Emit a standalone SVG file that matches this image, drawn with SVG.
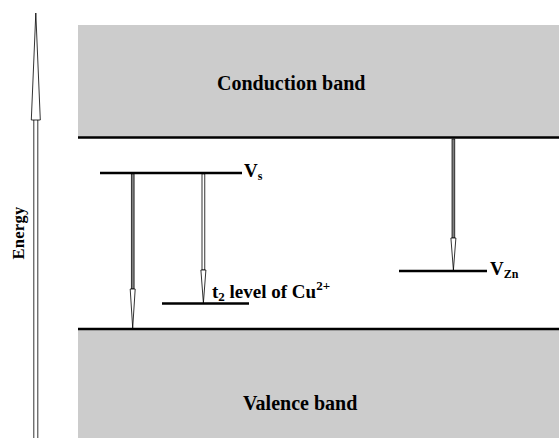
<svg xmlns="http://www.w3.org/2000/svg" width="559" height="438" viewBox="0 0 559 438">
<style>
.band{fill:#cccccc;stroke:none}
.edge{stroke:#000;stroke-width:2.5;fill:none}
.lvl{stroke:#000;stroke-width:2.5;fill:none}
.lbl{font-family:"Liberation Serif","Times New Roman",serif;font-weight:bold;fill:#000}
.shaftg{fill:#808080;stroke:#000;stroke-width:0.7}
.shaftw{fill:#fff;stroke:#000;stroke-width:0.8}
.head{fill:#fff;stroke:#000;stroke-width:0.8}
</style>
<g id="conduction-band">
<rect class="band" x="78" y="25" width="481" height="112"/>
<line class="edge" x1="78" y1="137.5" x2="559" y2="137.5"/>
<text class="lbl" x="217" y="90" font-size="20">Conduction band</text>
</g>
<g id="valence-band">
<rect class="band" x="78" y="329" width="481" height="109"/>
<line class="edge" x1="78" y1="329" x2="559" y2="329"/>
<text class="lbl" x="243" y="410" font-size="20">Valence band</text>
</g>
<g id="energy-axis">
<path class="shaftw" d="M33.8,120 V438 M37.8,120 V438" />
<polygon class="head" points="35.8,13 31.3,120 40.3,120"/>
<text class="lbl" font-size="16.5" text-anchor="middle" transform="translate(24,233) rotate(-90)" letter-spacing="0.3">Energy</text>
</g>
<g id="level-vs">
<line class="lvl" x1="100" y1="173" x2="242" y2="173"/>
<text class="lbl" x="244" y="177" font-size="19">V<tspan font-size="12" dy="3">s</tspan></text>
</g>
<g id="level-t2">
<line class="lvl" x1="162" y1="303.5" x2="249" y2="303.5"/>
<text class="lbl" x="212" y="298" font-size="19">t<tspan font-size="13" dy="3">2</tspan><tspan dy="-3"> level of Cu</tspan><tspan font-size="13" dy="-8">2+</tspan></text>
</g>
<g id="level-vzn">
<line class="lvl" x1="399" y1="271" x2="487" y2="271"/>
<text class="lbl" x="490" y="275" font-size="19">V<tspan font-size="12" dy="3">Zn</tspan></text>
</g>
<g id="connectors">
<rect class="shaftg" x="131.3" y="174" width="2.8" height="115"/>
<polygon class="head" points="130.2,289 135.2,289 132.7,328"/>
<rect class="shaftw" x="202" y="174" width="2.8" height="96"/>
<polygon class="head" points="200.9,270 205.9,270 203.4,303"/>
<rect class="shaftg" x="452" y="139" width="2.8" height="99"/>
<polygon class="head" points="450.9,238 455.9,238 453.4,270"/>
</g>
</svg>
